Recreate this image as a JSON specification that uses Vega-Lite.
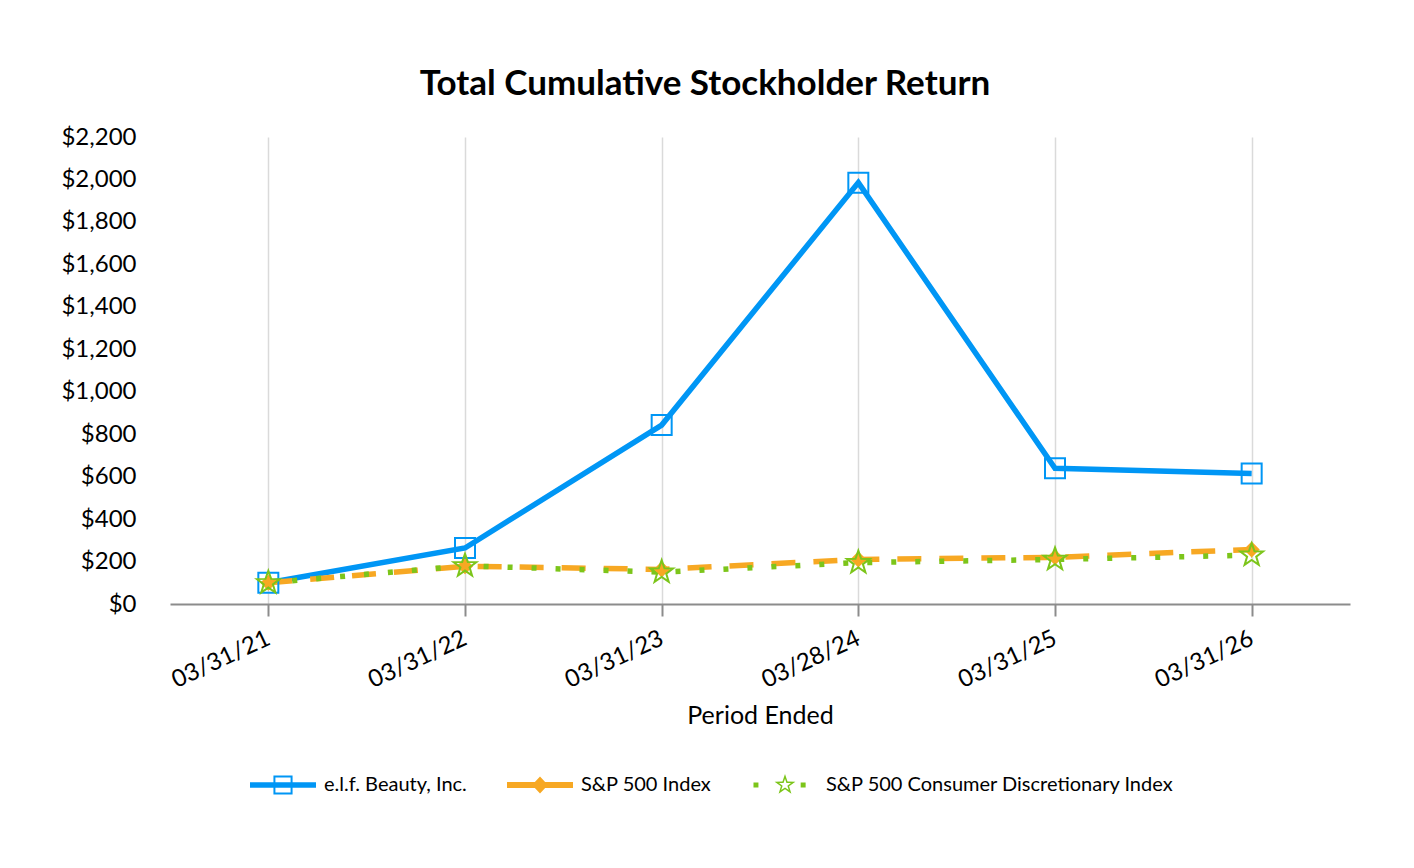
{
  "$schema": "https://vega.github.io/schema/vega-lite/v6.json",
  "width": 1180,
  "height": 467,
  "autosize": {"type": "none"},
  "padding": {"left": 170, "top": 137, "right": 64, "bottom": 264},
  "background": "white",
  "config": {"font": "Lato", "view": {"stroke": null}},
  "title": {
    "text": "Total Cumulative Stockholder Return",
    "fontSize": 35,
    "fontWeight": "bold",
    "color": "black",
    "anchor": "middle",
    "dx": -55,
    "offset": 23
  },
  "data": {
    "values": [
      {"series": "e.l.f. Beauty, Inc.", "period": "03/31/21", "value": 100},
      {"series": "e.l.f. Beauty, Inc.", "period": "03/31/22", "value": 264},
      {"series": "e.l.f. Beauty, Inc.", "period": "03/31/23", "value": 843},
      {"series": "e.l.f. Beauty, Inc.", "period": "03/28/24", "value": 1985},
      {"series": "e.l.f. Beauty, Inc.", "period": "03/31/25", "value": 639},
      {"series": "e.l.f. Beauty, Inc.", "period": "03/31/26", "value": 615},
      {"series": "S&P 500 Index", "period": "03/31/21", "value": 100},
      {"series": "S&P 500 Index", "period": "03/31/22", "value": 178},
      {"series": "S&P 500 Index", "period": "03/31/23", "value": 163},
      {"series": "S&P 500 Index", "period": "03/28/24", "value": 210},
      {"series": "S&P 500 Index", "period": "03/31/25", "value": 220},
      {"series": "S&P 500 Index", "period": "03/31/26", "value": 257},
      {"series": "S&P 500 Consumer Discretionary Index", "period": "03/31/21", "value": 100},
      {"series": "S&P 500 Consumer Discretionary Index", "period": "03/31/22", "value": 180},
      {"series": "S&P 500 Consumer Discretionary Index", "period": "03/31/23", "value": 150},
      {"series": "S&P 500 Consumer Discretionary Index", "period": "03/28/24", "value": 195},
      {"series": "S&P 500 Consumer Discretionary Index", "period": "03/31/25", "value": 210},
      {"series": "S&P 500 Consumer Discretionary Index", "period": "03/31/26", "value": 230}
    ]
  },
  "encoding": {
    "x": {
      "field": "period",
      "type": "ordinal",
      "sort": null,
      "scale": {"type": "point", "padding": 0.5},
      "axis": {
        "title": "Period Ended",
        "titleFontSize": 25,
        "titleFontWeight": "normal",
        "titleColor": "black",
        "titlePadding": 11,
        "labelAngle": -25,
        "labelAlign": "right",
        "labelBaseline": "middle",
        "labelFontSize": 24,
        "labelColor": "black",
        "labelPadding": 21,
        "grid": true,
        "gridColor": "#dadada",
        "gridWidth": 1.5,
        "domainColor": "#8c8c8c",
        "domainWidth": 2,
        "tickColor": "#8c8c8c",
        "tickWidth": 2,
        "tickSize": 12
      }
    },
    "y": {
      "field": "value",
      "type": "quantitative",
      "scale": {"domain": [0, 2200]},
      "axis": {
        "title": null,
        "values": [0, 200, 400, 600, 800, 1000, 1200, 1400, 1600, 1800, 2000, 2200],
        "format": "$,.0f",
        "labelFontSize": 24,
        "labelColor": "black",
        "labelPadding": 34,
        "domain": false,
        "ticks": false,
        "grid": false
      }
    }
  },
  "layer": [
    {
      "transform": [{"filter": "datum.series === 'e.l.f. Beauty, Inc.'"}],
      "mark": {"type": "line", "color": "#0096F5", "strokeWidth": 5.5}
    },
    {
      "transform": [{"filter": "datum.series === 'S&P 500 Index'"}],
      "mark": {"type": "line", "color": "#F7A823", "strokeWidth": 5.5, "strokeDash": [24, 18], "strokeCap": "butt"}
    },
    {
      "transform": [{"filter": "datum.series === 'S&P 500 Consumer Discretionary Index'"}],
      "mark": {"type": "line", "color": "#7CC51A", "strokeWidth": 5.5, "strokeDash": [5, 19], "strokeCap": "butt"}
    },
    {
      "transform": [{"filter": "datum.series === 'e.l.f. Beauty, Inc.'"}],
      "mark": {"type": "point", "shape": "square", "size": 400, "filled": false, "stroke": "#0096F5", "fill": "transparent", "strokeWidth": 2, "opacity": 1}
    },
    {
      "transform": [{"filter": "datum.series === 'S&P 500 Index'"}],
      "mark": {"type": "point", "shape": "diamond", "size": 260, "filled": true, "color": "#F7A823", "strokeWidth": 0, "opacity": 1}
    },
    {
      "transform": [{"filter": "datum.series === 'S&P 500 Consumer Discretionary Index'"}],
      "mark": {
        "type": "point",
        "shape": "M0,-1L0.235,-0.324L0.951,-0.309L0.38,0.124L0.588,0.809L0,0.4L-0.588,0.809L-0.38,0.124L-0.951,-0.309L-0.235,-0.324Z",
        "size": 576,
        "filled": false,
        "stroke": "#7CC51A",
        "fill": "transparent",
        "strokeWidth": 2,
        "opacity": 1
      }
    },
    {
      "transform": [{"filter": "false"}],
      "mark": {"type": "point", "filled": true, "strokeWidth": 0, "opacity": 1},
      "encoding": {
        "color": {
          "field": "series",
          "type": "nominal",
          "scale": {
            "domain": ["e.l.f. Beauty, Inc.", "S&P 500 Index", "S&P 500 Consumer Discretionary Index"],
            "range": ["#0096F5", "#F7A823", "#7CC51A"]
          },
          "legend": {
            "title": null,
            "orient": "none",
            "legendX": 80,
            "legendY": 615,
            "direction": "horizontal",
            "columnPadding": 40,
            "labelFontSize": 20,
            "labelColor": "black",
            "labelOffset": 8,
            "labelLimit": 600,
            "symbolSize": 4356,
            "symbolStrokeWidth": 0,
            "symbolOpacity": 1
          }
        },
        "shape": {
          "field": "series",
          "type": "nominal",
          "scale": {
            "domain": ["e.l.f. Beauty, Inc.", "S&P 500 Index", "S&P 500 Consumer Discretionary Index"],
            "range": [
              "M-1,-0.08H1V0.08H-1Z M-0.29,-0.29H0.29V0.29H-0.29Z M-0.23,-0.23V0.23H0.23V-0.23Z",
              "M-1,-0.09H1V0.09H-1Z M0,-0.26L0.24,0L0,0.26L-0.24,0Z",
              "M-0.955,-0.075H-0.805V0.075H-0.955Z M0.475,-0.075H0.625V0.075H0.475Z M0,-0.33L0.076,-0.105L0.314,-0.102L0.124,0.04L0.194,0.267L0,0.13L-0.194,0.267L-0.124,0.04L-0.314,-0.102L-0.076,-0.105Z M0,-0.191L-0.044,-0.061L-0.182,-0.059L-0.072,0.023L-0.113,0.155L0,0.075L0.113,0.155L0.072,0.023L0.182,-0.059L0.044,-0.061Z"
            ]
          },
          "legend": {
            "title": null,
            "orient": "none",
            "legendX": 80,
            "legendY": 615,
            "direction": "horizontal",
            "columnPadding": 40,
            "labelFontSize": 20,
            "labelColor": "black",
            "labelOffset": 8,
            "labelLimit": 600,
            "symbolSize": 4356,
            "symbolStrokeWidth": 0,
            "symbolOpacity": 1
          }
        }
      }
    }
  ]
}
